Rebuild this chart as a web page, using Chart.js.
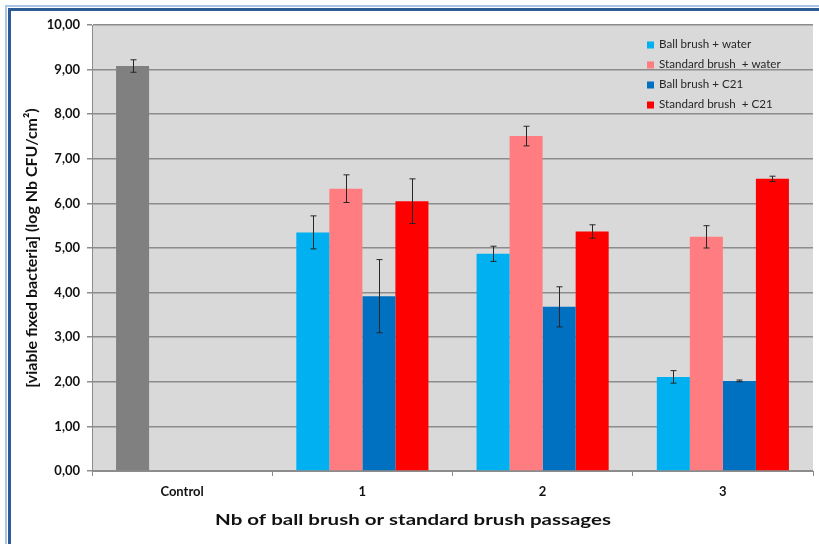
<!DOCTYPE html>
<html>
<head>
<meta charset="utf-8">
<script src="https://cdn.jsdelivr.net/npm/chart.js@4.4.1/dist/chart.umd.min.js"></script>
<style>
  html, body { margin: 0; padding: 0; background: #ffffff; overflow: hidden; }
  #wrap { position: relative; width: 819px; height: 544px; overflow: hidden; }
  .frame-outer { position: absolute; left: 5px; top: 5px; width: 1000px; height: 1000px;
                 border-left: 2px solid #a9c6e6; border-top: 2px solid #a9c6e6; }
  .frame-inner { position: absolute; left: 8px; top: 8px; width: 1000px; height: 1000px;
                 border-left: 3px solid #2d5b94; border-top: 3px solid #2d5b94; }
  canvas { position: absolute; left: 0; top: 0; }
</style>
</head>
<body>
<div id="wrap">
  <div class="frame-outer"></div>
  <div class="frame-inner"></div>
  <canvas id="chart" width="819" height="544"></canvas>
</div>
<script>
// Categories on the x axis
const categories = ['Control', '1', '2', '3'];

// Series names (legend)
const seriesNames = [
  'Ball brush + water',
  'Standard brush  + water',
  'Ball brush + C21',
  'Standard brush  + C21'
];

// Axis titles
const xTitle = 'Nb of ball brush or standard brush passages';
const yTitle = '[viable fixed bacteria] (log Nb CFU/cm²)';

// Mean values, log Nb CFU/cm² (Control sits in the first series)
const ballWater     = [9.08, 5.35, 4.87, 2.11];
const standardWater = [null, 6.33, 7.51, 5.25];
const ballC21       = [null, 3.92, 3.68, 2.02];
const standardC21   = [null, 6.05, 5.37, 6.55];

// Standard deviations (error bars)
const ballWaterErr     = [0.14, 0.37, 0.17, 0.14];
const standardWaterErr = [0, 0.31, 0.22, 0.25];
const ballC21Err       = [0, 0.82, 0.45, 0.02];
const standardC21Err   = [0, 0.50, 0.15, 0.06];

const colors = ['#00b0f0', '#ff7c80', '#0070c0', '#ff0000'];
const controlColor = '#808080';

const FONT = 'Lato, "Open Sans", sans-serif';

// Grey plotting area behind the bars
const plotBackground = {
  id: 'plotBackground',
  beforeDraw(chart) {
    const { ctx, chartArea: a } = chart;
    ctx.save();
    ctx.fillStyle = '#d9d9d9';
    ctx.fillRect(a.left, a.top, a.right - a.left, a.bottom - a.top);
    ctx.restore();
  }
};

// Vertical error bars with caps, placed on each bar through the y scale
const errorBars = {
  id: 'errorBars',
  afterDatasetsDraw(chart) {
    const { ctx } = chart;
    const y = chart.scales.y;
    ctx.save();
    ctx.strokeStyle = '#262626';
    ctx.lineWidth = 1;
    chart.data.datasets.forEach((ds, i) => {
      const meta = chart.getDatasetMeta(i);
      ds.data.forEach((v, j) => {
        const e = ds.errors[j];
        if (v === null || !e) return;
        const bar = meta.data[j];
        const x = Math.round(bar.x) + 0.5;
        const top = y.getPixelForValue(v + e);
        const bot = y.getPixelForValue(v - e);
        ctx.beginPath();
        ctx.moveTo(x, top); ctx.lineTo(x, bot);
        ctx.moveTo(x - 3, top); ctx.lineTo(x + 3, top);
        ctx.moveTo(x - 3, bot); ctx.lineTo(x + 3, bot);
        ctx.stroke();
      });
    });
    ctx.restore();
  }
};

// Legend drawn inside the plotting area, top right
const innerLegend = {
  id: 'innerLegend',
  afterDraw(chart) {
    const { ctx } = chart;
    ctx.save();
    ctx.font = '11.6px ' + FONT;
    ctx.textBaseline = 'middle';
    chart.data.datasets.forEach((ds, i) => {
      const cy = 44.5 + i * 20;
      ctx.fillStyle = ds.legendColor;
      ctx.fillRect(647, cy - 3, 7, 7);
      ctx.fillStyle = '#262626';
      ctx.fillText(ds.label, 659, cy);
    });
    ctx.restore();
  }
};

// Horizontal axis title, centred under the whole figure in a wide bold face
const bottomTitle = {
  id: 'bottomTitle',
  afterDraw(chart) {
    const { ctx } = chart;
    ctx.save();
    ctx.font = 'bold 16px ' + FONT;
    ctx.fillStyle = '#111111';
    ctx.textAlign = 'center';
    ctx.textBaseline = 'middle';
    ctx.translate(413, 520);
    ctx.scale(1.28, 1);
    ctx.fillText(xTitle, 0, 0);
    ctx.restore();
  }
};

const series = [ballWater, standardWater, ballC21, standardC21];
const errs = [ballWaterErr, standardWaterErr, ballC21Err, standardC21Err];

const datasets = series.map((data, i) => ({
  label: seriesNames[i],
  data: data,
  errors: errs[i],
  legendColor: colors[i],
  backgroundColor: i === 0 ? data.map((_, j) => j === 0 ? controlColor : colors[0]) : colors[i],
  borderWidth: 0,
  categoryPercentage: 0.733,
  barPercentage: 1.0
}));

const tickFont = { family: FONT, size: 13, weight: 'bold' };

new Chart(document.getElementById('chart'), {
  type: 'bar',
  data: { labels: categories, datasets },
  plugins: [plotBackground, errorBars, innerLegend, bottomTitle],
  options: {
    responsive: false,
    devicePixelRatio: 1,
    animation: false,
    layout: { padding: { left: 0, top: 25, right: 6, bottom: 0 } },
    plugins: { legend: { display: false }, tooltip: { enabled: false } },
    scales: {
      x: {
        grid: { drawOnChartArea: false, drawTicks: true, tickLength: 5, color: '#8c8c8c', offset: true },
        border: { color: '#8c8c8c', width: 1 },
        ticks: { font: tickFont, color: '#111111', padding: 8, maxRotation: 0 },
        title: { display: false },
        afterFit(scale) { scale.height = 73; }
      },
      y: {
        min: 0,
        max: 10,
        ticks: {
          stepSize: 1,
          font: tickFont,
          color: '#111111',
          padding: 7,
          callback: v => v.toFixed(2).replace('.', ',')
        },
        grid: { color: '#8c8c8c', lineWidth: 1.5, tickLength: 5 },
        border: { color: '#8c8c8c', width: 1 },
        title: {
          display: true,
          text: yTitle,
          font: { family: FONT, size: 16, weight: 'bold' },
          color: '#111111',
          padding: { top: 22, bottom: 0 }
        },
        afterFit(scale) { scale.width = 92; }
      }
    }
  }
});
</script>
</body>
</html>
